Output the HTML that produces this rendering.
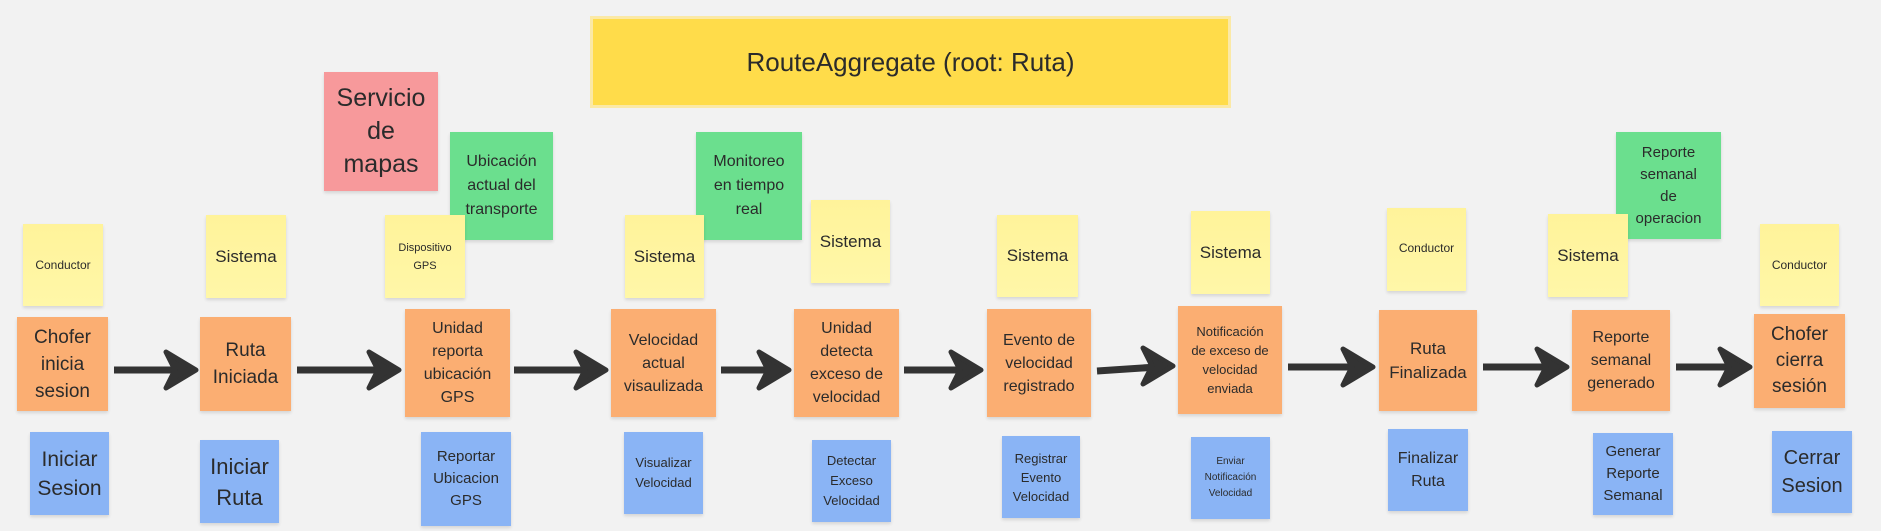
<!DOCTYPE html>
<html><head><meta charset="utf-8"><style>
html,body{margin:0;padding:0}
body{width:1881px;height:531px;background:#f2f2f2;position:relative;overflow:hidden;font-family:"Liberation Sans",sans-serif;color:#2b2b2b}
.n{position:absolute;display:flex;align-items:center;justify-content:center;text-align:center;box-sizing:border-box;padding:2px;box-shadow:0 2px 3px rgba(0,0,0,0.12)}
.y{background:linear-gradient(#fff39a,#fff7a8)}
.o{background:#fbae72}
.b{background:#8ab4f5}
.g{background:#6bdf8e}
.r{background:#f7999b}
svg{position:absolute;left:0;top:0}
</style></head><body>
<div class="n" style="left:593px;top:19px;width:635px;height:86px;background:#ffdc4a;font-size:26px;box-shadow:0 0 0 3px #fbe9a6">RouteAggregate (root: Ruta)</div>

<div class="n r" style="left:324px;top:72px;width:114px;height:119px;font-size:25px;line-height:33px">Servicio<br>de<br>mapas</div>
<div class="n g" style="left:450px;top:132px;width:103px;height:108px;font-size:16px;line-height:24px">Ubicación<br>actual del<br>transporte</div>
<div class="n g" style="left:696px;top:132px;width:106px;height:108px;font-size:16px;line-height:24px">Monitoreo<br>en tiempo<br>real</div>
<div class="n g" style="left:1616px;top:132px;width:105px;height:107px;font-size:15px;line-height:22px">Reporte<br>semanal<br>de<br>operacion</div>

<div class="n y" style="left:23px;top:224px;width:80px;height:82px;font-size:12px">Conductor</div>
<div class="n y" style="left:206px;top:215px;width:80px;height:83px;font-size:17px">Sistema</div>
<div class="n y" style="left:385px;top:215px;width:80px;height:83px;font-size:11px;line-height:18px">Dispositivo<br>GPS</div>
<div class="n y" style="left:625px;top:215px;width:79px;height:83px;font-size:17px">Sistema</div>
<div class="n y" style="left:811px;top:200px;width:79px;height:83px;font-size:17px">Sistema</div>
<div class="n y" style="left:997px;top:215px;width:81px;height:82px;font-size:17px">Sistema</div>
<div class="n y" style="left:1191px;top:211px;width:79px;height:83px;font-size:17px">Sistema</div>
<div class="n y" style="left:1387px;top:208px;width:79px;height:83px;font-size:12px;align-items:flex-start;padding-top:33px">Conductor</div>
<div class="n y" style="left:1548px;top:214px;width:80px;height:83px;font-size:17px">Sistema</div>
<div class="n y" style="left:1760px;top:224px;width:79px;height:82px;font-size:12px">Conductor</div>

<div class="n o" style="left:17px;top:317px;width:91px;height:94px;font-size:19px;line-height:27px">Chofer<br>inicia<br>sesion</div>
<div class="n o" style="left:200px;top:317px;width:91px;height:94px;font-size:19px;line-height:27px">Ruta<br>Iniciada</div>
<div class="n o" style="left:405px;top:309px;width:105px;height:108px;font-size:16px;line-height:23px">Unidad<br>reporta<br>ubicación<br>GPS</div>
<div class="n o" style="left:611px;top:309px;width:105px;height:108px;font-size:16px;line-height:23px">Velocidad<br>actual<br>visaulizada</div>
<div class="n o" style="left:794px;top:309px;width:105px;height:108px;font-size:16px;line-height:23px">Unidad<br>detecta<br>exceso de<br>velocidad</div>
<div class="n o" style="left:987px;top:309px;width:104px;height:108px;font-size:16px;line-height:23px">Evento de<br>velocidad<br>registrado</div>
<div class="n o" style="left:1178px;top:306px;width:104px;height:108px;font-size:13px;line-height:19px">Notificación<br>de exceso de<br>velocidad<br>enviada</div>
<div class="n o" style="left:1379px;top:310px;width:98px;height:101px;font-size:17px;line-height:24px">Ruta<br>Finalizada</div>
<div class="n o" style="left:1572px;top:310px;width:98px;height:101px;font-size:16px;line-height:23px">Reporte<br>semanal<br>generado</div>
<div class="n o" style="left:1754px;top:314px;width:91px;height:94px;font-size:19px;line-height:26px">Chofer<br>cierra<br>sesión</div>

<div class="n b" style="left:30px;top:432px;width:79px;height:83px;font-size:21px;line-height:29px">Iniciar<br>Sesion</div>
<div class="n b" style="left:200px;top:440px;width:79px;height:83px;font-size:22px;line-height:31px">Iniciar<br>Ruta</div>
<div class="n b" style="left:421px;top:432px;width:90px;height:94px;font-size:15px;line-height:22px">Reportar<br>Ubicacion<br>GPS</div>
<div class="n b" style="left:624px;top:432px;width:79px;height:82px;font-size:13px;line-height:20px">Visualizar<br>Velocidad</div>
<div class="n b" style="left:812px;top:440px;width:79px;height:82px;font-size:13px;line-height:20px">Detectar<br>Exceso<br>Velocidad</div>
<div class="n b" style="left:1002px;top:436px;width:78px;height:82px;font-size:13px;line-height:19px">Registrar<br>Evento<br>Velocidad</div>
<div class="n b" style="left:1191px;top:437px;width:79px;height:82px;font-size:10px;line-height:16px">Enviar<br>Notificación<br>Velocidad</div>
<div class="n b" style="left:1388px;top:429px;width:80px;height:82px;font-size:16px;line-height:23px">Finalizar<br>Ruta</div>
<div class="n b" style="left:1593px;top:433px;width:80px;height:82px;font-size:15px;line-height:22px">Generar<br>Reporte<br>Semanal</div>
<div class="n b" style="left:1772px;top:431px;width:80px;height:82px;font-size:20px;line-height:28px">Cerrar<br>Sesion</div>

<svg width="1881" height="531" viewBox="0 0 1881 531">
<g stroke="#333" fill="#333" stroke-linejoin="round" stroke-linecap="butt">
<line x1="114" y1="370" x2="180" y2="370" stroke-width="7"/><path d="M196 370 L166 352 L175 370 L166 388 Z" stroke-width="5"/>
<line x1="297" y1="370" x2="383" y2="370" stroke-width="7"/><path d="M399 370 L369 352 L378 370 L369 388 Z" stroke-width="5"/>
<line x1="514" y1="370" x2="590" y2="370" stroke-width="7"/><path d="M606 370 L576 352 L585 370 L576 388 Z" stroke-width="5"/>
<line x1="721" y1="370" x2="773" y2="370" stroke-width="7"/><path d="M789 370 L759 352 L768 370 L759 388 Z" stroke-width="5"/>
<line x1="904" y1="370" x2="965" y2="370" stroke-width="7"/><path d="M981 370 L951 352 L960 370 L951 388 Z" stroke-width="5"/>
<line x1="1097" y1="371" x2="1157" y2="367" stroke-width="7"/><path d="M1173 366 L1143 348 L1152 366 L1143 384 Z" stroke-width="5"/>
<line x1="1288" y1="367" x2="1357" y2="367" stroke-width="7"/><path d="M1373 367 L1343 349 L1352 367 L1343 385 Z" stroke-width="5"/>
<line x1="1483" y1="367" x2="1551" y2="367" stroke-width="7"/><path d="M1567 367 L1537 349 L1546 367 L1537 385 Z" stroke-width="5"/>
<line x1="1676" y1="367" x2="1734" y2="367" stroke-width="7"/><path d="M1750 367 L1720 349 L1729 367 L1720 385 Z" stroke-width="5"/>
</g>
</svg>
</body></html>
